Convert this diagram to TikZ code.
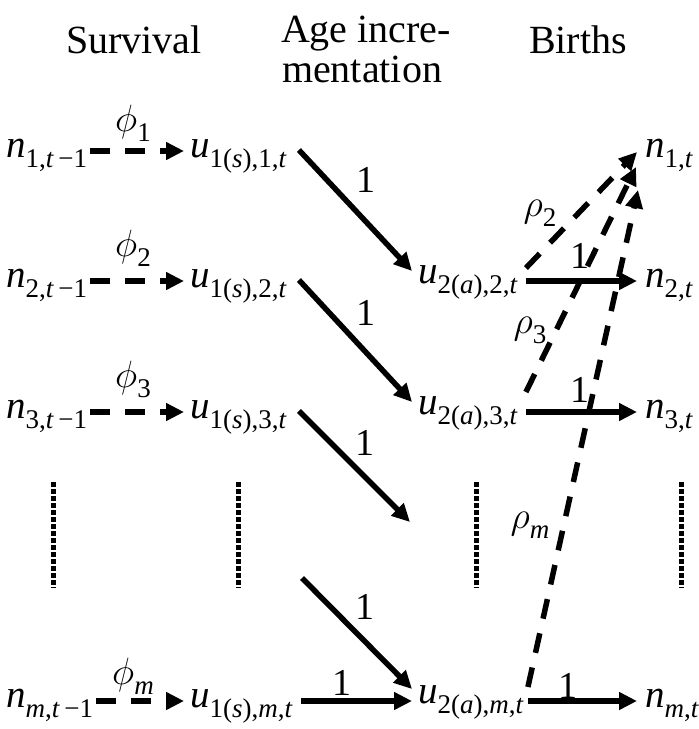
\RequirePackage{fix-cm}
\documentclass[tikz,border=0pt]{standalone}
\usepackage{fontspec}
\IfFontExistsTF{LiberationSerif-Regular.ttf}{%
  \setmainfont{LiberationSerif}[Extension=.ttf,UprightFont=*-Regular,ItalicFont=*-Italic,BoldFont=*-Bold,BoldItalicFont=*-BoldItalic]}{%
  \setmainfont{Liberation Serif}}
\usetikzlibrary{arrows.meta}
\newcommand\sbs[1]{\raisebox{-10pt}{\fontsize{27}{27}\selectfont #1}}
\newcommand\iv[1]{\textit{#1}}
\tikzset{
  txt/.style={inner sep=0pt, anchor=base west, font=\fontsize{39}{39}\selectfont},
  hdr/.style={inner sep=0pt, anchor=base, font=\fontsize{40}{40}\selectfont},
  lab/.style={inner sep=0pt, font=\fontsize{38}{38}\selectfont},
  arr/.style={line width=5.5pt, -{Triangle[length=18pt,width=17pt]}},
  darr/.style={arr, dash pattern=on 20pt off 15pt},
  dotline/.style={line width=5pt, dash pattern=on 4.5pt off 2.5pt}
}
\begin{document}
\begin{tikzpicture}[x=1pt,y=-1pt]
\useasboundingbox (0,0) rectangle (699,729);
% headers
\node[hdr] (h1) at (134,53) {Survival};
\node[hdr] (h2a) at (366,42) {Age incre-};
\node[hdr] (h2b) at (362,82) {mentation};
\node[hdr] (h3) at (578,53) {Births};
% left column
\node[txt] (a1) at (6,157) {\iv{n}\sbs{1,\iv{t}\,−1}};
\node[txt] (a2) at (6,287) {\iv{n}\sbs{2,\iv{t}\,−1}};
\node[txt] (a3) at (6,418) {\iv{n}\sbs{3,\iv{t}\,−1}};
\node[txt] (am) at (6,707) {\iv{n}\sbs{\iv{m},\iv{t}\,−1}};
% second column
\node[txt] (b1) at (190,157) {\iv{u}\sbs{1(\iv{s}),1,\iv{t}}};
\node[txt] (b2) at (190,287) {\iv{u}\sbs{1(\iv{s}),2,\iv{t}}};
\node[txt] (b3) at (190,418) {\iv{u}\sbs{1(\iv{s}),3,\iv{t}}};
\node[txt] (bm) at (190,707) {\iv{u}\sbs{1(\iv{s}),\iv{m},\iv{t}}};
% third column
\node[txt] (c2) at (418,283) {\iv{u}\sbs{2(\iv{a}),2,\iv{t}}};
\node[txt] (c3) at (418,414) {\iv{u}\sbs{2(\iv{a}),3,\iv{t}}};
\node[txt] (cm) at (418,703) {\iv{u}\sbs{2(\iv{a}),\iv{m},\iv{t}}};
% right column
\node[txt] (d1) at (645,157) {\iv{n}\sbs{1,\iv{t}}};
\node[txt] (d2) at (645,287) {\iv{n}\sbs{2,\iv{t}}};
\node[txt] (d3) at (645,418) {\iv{n}\sbs{3,\iv{t}}};
\node[txt] (dm) at (645,707) {\iv{n}\sbs{\iv{m},\iv{t}}};
% survival arrows
\foreach \r in {1,2,3,m}{
  \draw[darr] ([xshift=3pt,yshift=6pt]a\r.base east) -- ([xshift=-6pt,yshift=6pt]b\r.base west);
}
\node[lab] (p1) at (133,123) {$\phi$\sbs{1}};
\node[lab] (p2) at (133,248) {$\phi$\sbs{2}};
\node[lab] (p3) at (133,379) {$\phi$\sbs{3}};
\node[lab] (pm) at (133,676) {$\phi$\sbs{\iv{m}}};
% age increment arrows
\coordinate (e3) at (410,522);
\coordinate (s4) at (302,578);
\draw[arr] ([xshift=12pt,yshift=7pt]b1.base east) -- ([xshift=-6pt,yshift=12pt]c2.base west);
\draw[arr] ([xshift=12pt,yshift=7pt]b2.base east) -- ([xshift=-6pt,yshift=12pt]c3.base west);
\draw[arr] ([xshift=12pt,yshift=7pt]b3.base east) -- (e3);
\draw[arr] (s4) -- ([xshift=-6pt,yshift=14pt]cm.base west);
\draw[arr] ([xshift=8pt,yshift=6pt]bm.base east) -- ([xshift=-6pt,yshift=2pt]cm.base west);
\node[lab] (l1) at (366,180) {1};
\node[lab] (l2) at (366,313) {1};
\node[lab] (l3) at (365,443) {1};
\node[lab] (l4) at (365,607) {1};
\node[lab] (l5) at (342,683) {1};
% births arrows
\draw[arr] ([xshift=8pt,yshift=2pt]c2.base east) -- ([xshift=-8pt,yshift=6pt]d2.base west);
\draw[arr] ([xshift=8pt,yshift=2pt]c3.base east) -- ([xshift=-8pt,yshift=6pt]d3.base west);
\draw[arr] ([xshift=4pt,yshift=2pt]cm.base east) -- ([xshift=-8pt,yshift=6pt]dm.base west);
\node[lab] (l6) at (580,256) {1};
\node[lab] (l7) at (580,390) {1};
\node[lab] (l8) at (568,686) {1};
\draw[darr] ([xshift=8pt,yshift=15pt]c2.base east) -- ([xshift=-8pt,yshift=5pt]d1.base west);
\draw[darr] ([xshift=8pt,yshift=22pt]c3.base east) -- ([xshift=-9pt,yshift=-10pt]d1.base west);
\draw[darr] ([xshift=4pt,yshift=16pt]cm.base east) -- ([xshift=-7pt,yshift=-33pt]d1.base west);
\node[lab] (r2) at (540,213) {$\rho$\sbs{2}};
\node[lab] (r3) at (530,330) {$\rho$\sbs{3}};
\node[lab] (rm) at (530,525) {$\rho$\sbs{\iv{m}}};
% dotted lines
\draw[dotline] (53,482) -- (53,588);
\draw[dotline] (238,482) -- (238,588);
\draw[dotline] (476,482) -- (476,588);
\draw[dotline] (681,482) -- (681,588);
\end{tikzpicture}
\end{document}
